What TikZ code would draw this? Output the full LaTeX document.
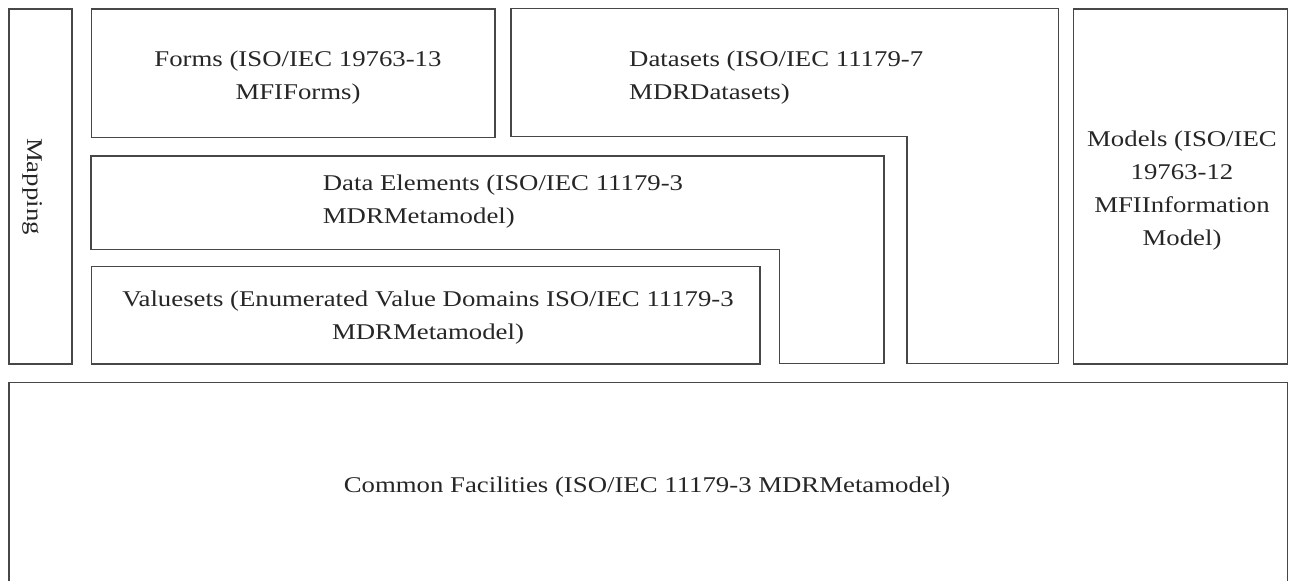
\documentclass[tikz,border=0pt]{standalone}
\usepackage{fontspec}
\setmainfont[FakeStretch=1.19]{Liberation Serif}
\usetikzlibrary{positioning}
\tikzstyle{block} = [
  rectangle, draw=black!72, line width=1.6pt, anchor=north west,
  inner sep=0pt
]
\tikzstyle{lblock} = [
  draw=black!72, line width=1.6pt
]
\tikzstyle{txt} = [
  font=\fontsize{22.5}{33}\selectfont, text=black!85, inner sep=0pt
]

\begin{document}
\begin{tikzpicture}[x=1pt, y=-1pt]
    \useasboundingbox (0,0) rectangle (1294,581);
    \node[block, minimum width=62.7pt, minimum height=355pt] (mapping) at (8.3,8.3) {};
    \node[block, minimum width=403.3pt, minimum height=128.4pt] (forms) at (90.7,8.3) {};
    \node[block, minimum width=214pt, minimum height=355pt] (models) at (1072.7,8.3) {};
    \node[block, minimum width=668.6pt, minimum height=97.6pt] (valuesets) at (90.7,265.7) {};
    \node[block, minimum width=1278.4pt, minimum height=212pt] (common) at (8.3,381.7) {};

    % stepped boxes
    \draw[lblock] (511,8.3) -- (1058.3,8.3) -- (1058.3,363.3) -- (906.7,363.3)
        -- (906.7,136.5) -- (511,136.5) -- cycle;
    \draw[lblock] (90.7,155.7) -- (884,155.7) -- (884,363.3) -- (779.3,363.3)
        -- (779.3,249.5) -- (90.7,249.5) -- cycle;

    \node[txt, rotate=-90] (mapping-t) at (33,186.5) {Mapping};
    \node[txt, align=center] (forms-t) at (298,78) {Forms (ISO/IEC 19763-13\\MFIForms)};
    \node[txt, align=left, anchor=west] (datasets-t) at (629,78) {Datasets (ISO/IEC 11179-7\\MDRDatasets)};
    \node[txt, align=left, anchor=west] (elements-t) at (322.7,201.5) {Data Elements (ISO/IEC 11179-3\\MDRMetamodel)};
    \node[txt, align=center] (valuesets-t) at (428,317.8) {Valuesets (Enumerated Value Domains ISO/IEC 11179-3\\MDRMetamodel)};
    \node[txt, align=center] (models-t) at (1182,190.3) {Models (ISO/IEC\\19763-12\\MFIInformation\\Model)};
    \node[txt] (common-t) at (647,487.5) {Common Facilities (ISO/IEC 11179-3 MDRMetamodel)};
\end{tikzpicture}
\end{document}
